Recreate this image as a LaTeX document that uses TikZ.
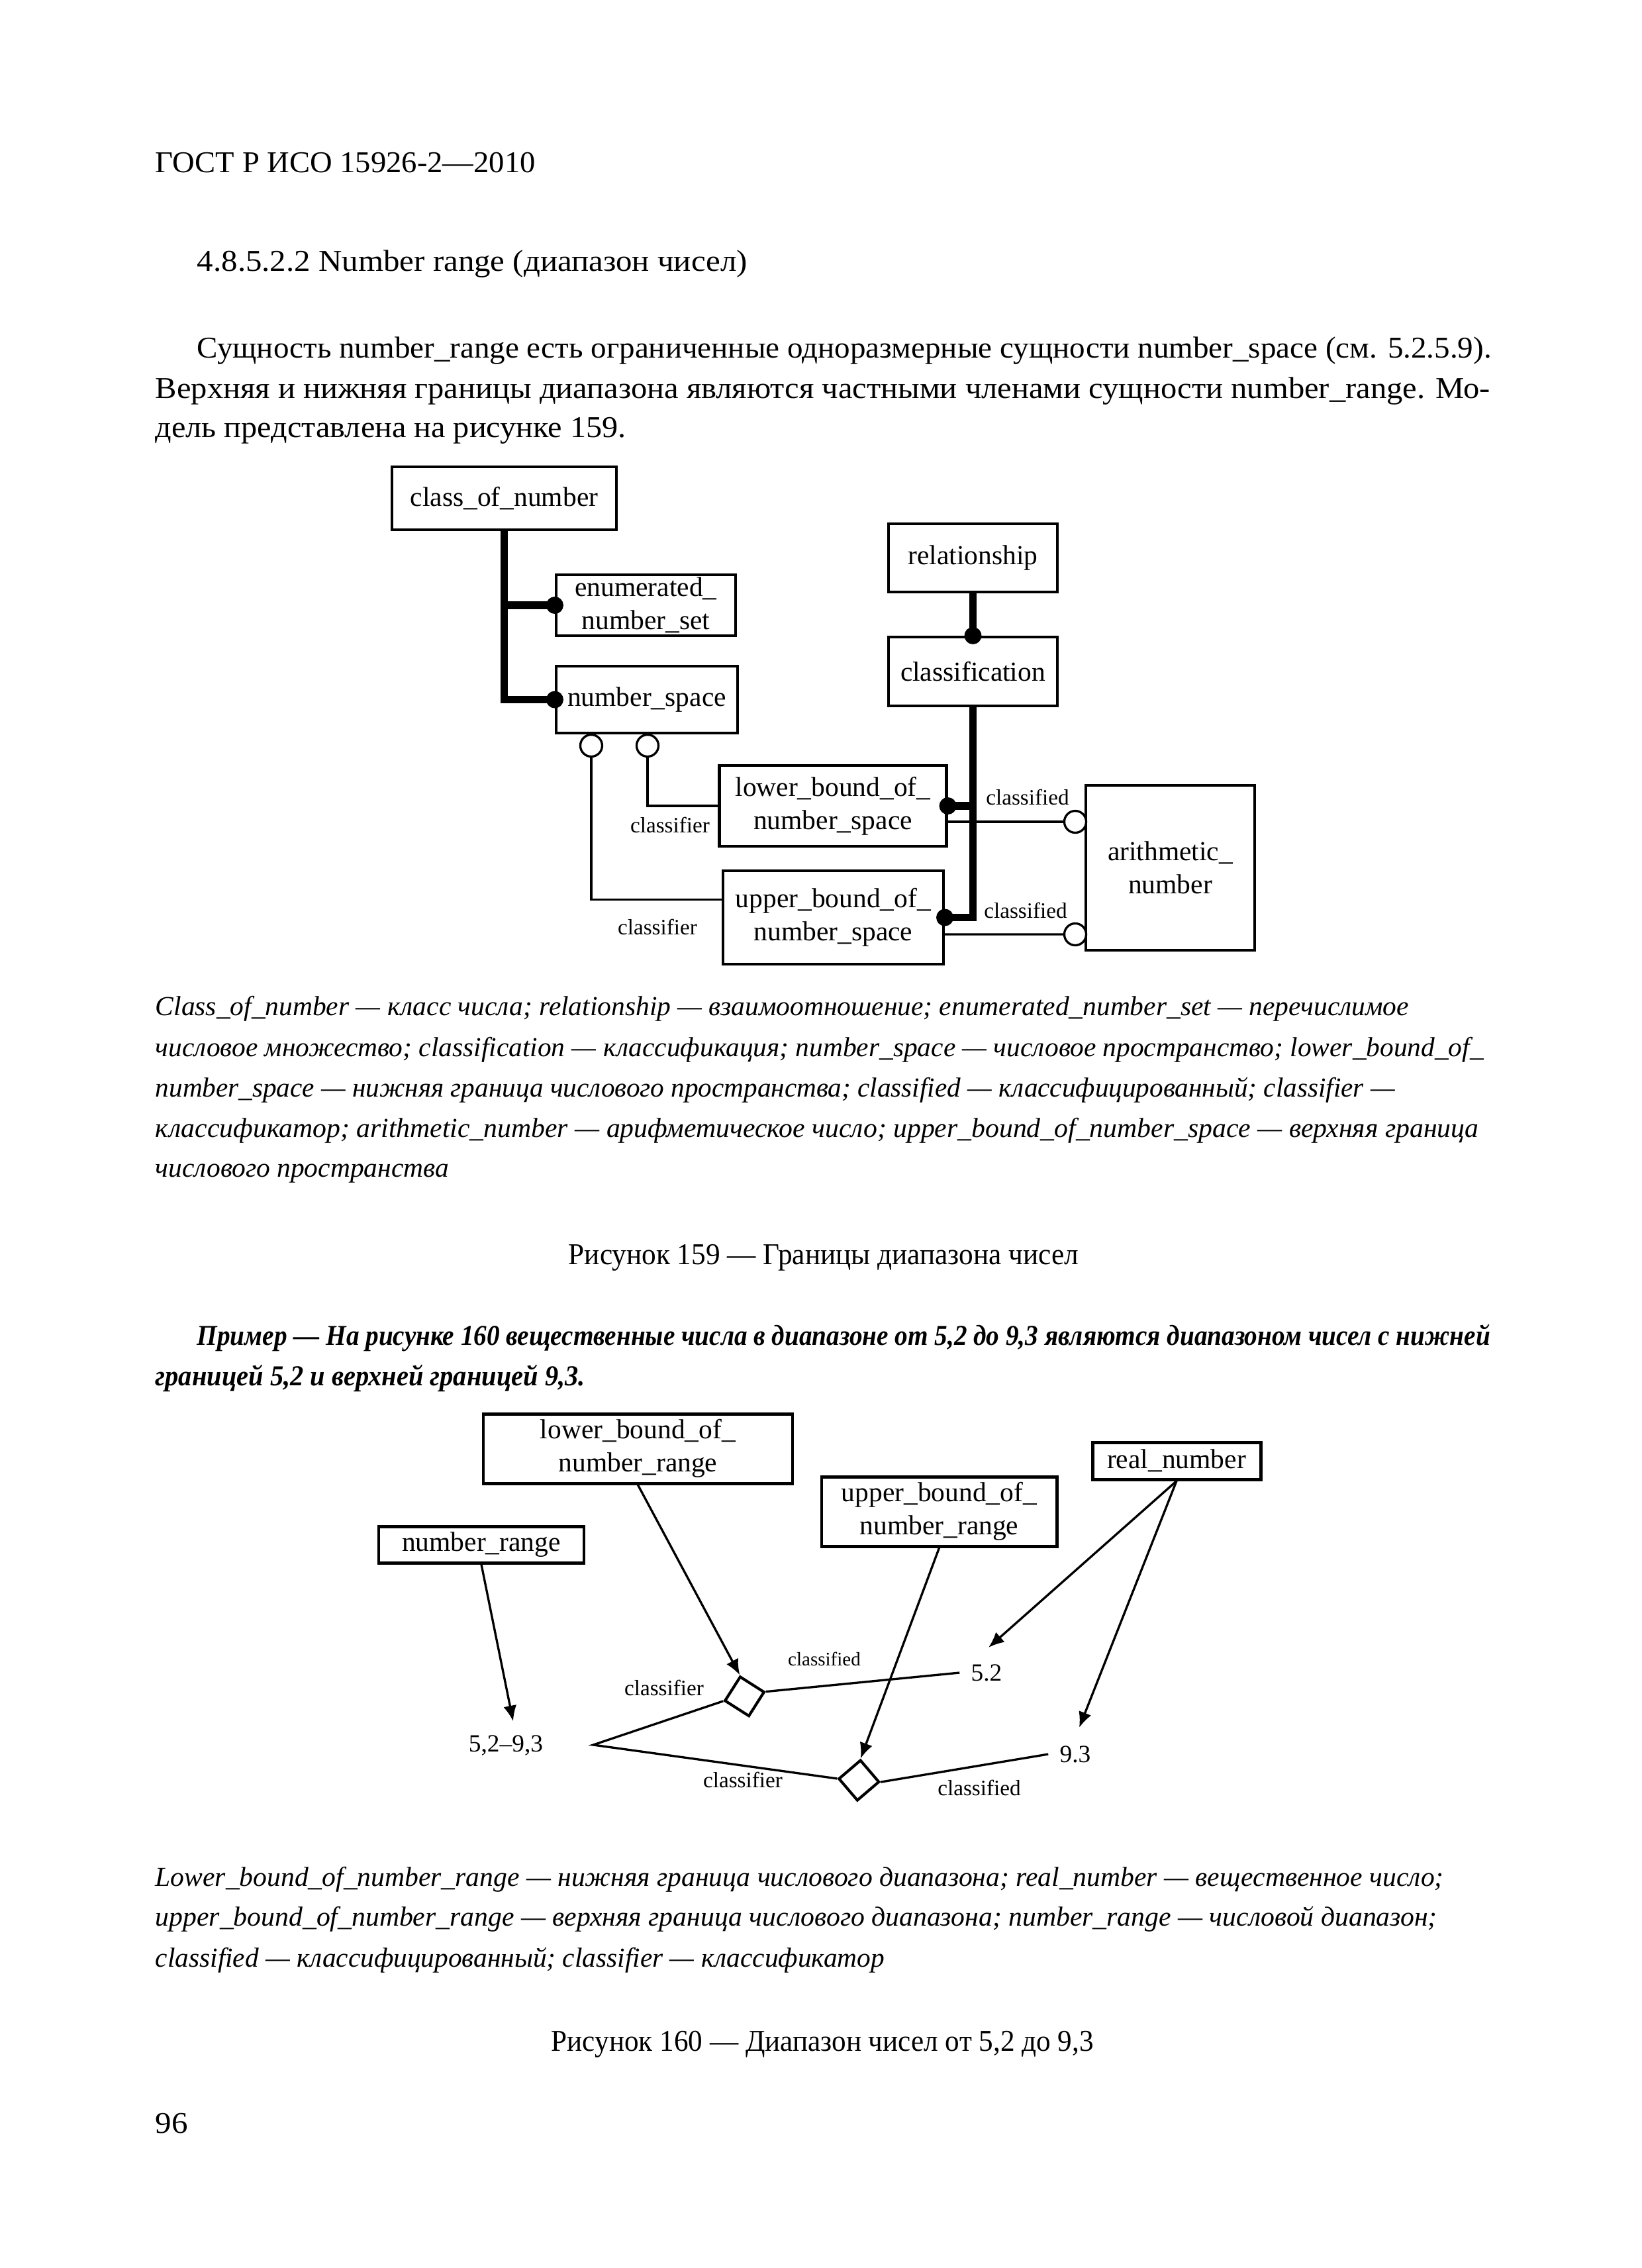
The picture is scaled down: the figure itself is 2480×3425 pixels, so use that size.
\documentclass[tikz,border=0pt]{standalone}
\usepackage{fontspec}
\setmainfont{Liberation Serif}
\usepackage{graphicx}
\usetikzlibrary{arrows.meta,shapes.geometric,calc}
\newlength\pxl
\setlength\pxl{0.0084667cm}
\newcommand{\fitline}[2]{\resizebox{#1\pxl}{\height}{#2}}
\newcommand{\bodyf}{\fontsize{11}{13}\selectfont}
\newcommand{\legf}{\fontsize{10}{12}\selectfont\itshape}
\newcommand{\exf}{\fontsize{10.5}{12}\selectfont\bfseries\itshape}
\begin{document}
\begin{tikzpicture}[x=0.0084667cm,y=-0.0084667cm,
  ebox/.style={draw, line width=1pt, inner sep=0pt, align=center, font=\fontsize{10}{12}\selectfont},
  fbox/.style={ebox, line width=1.2pt},
  thk/.style={line width=2.8pt},
  thn/.style={line width=0.8pt},
  ocirc/.style={circle, draw, fill=white, line width=0.8pt, minimum size=33\pxl, inner sep=0pt},
  lbl/.style={font=\fontsize{8}{9}\selectfont, inner sep=0pt},
  val/.style={font=\fontsize{9}{10}\selectfont, inner sep=4pt},
  dmd/.style={diamond, draw, fill=white, line width=1pt, minimum width=62\pxl, minimum height=62\pxl, inner sep=0pt},
  arr/.style={thn, -{Latex[length=2mm,width=1.7mm]}},
  txt/.style={anchor=base west, inner sep=0pt}
]
\useasboundingbox[fill=white] (0,0) rectangle (2480,3425);

% ---------- page text ----------
\node[txt] (hdr) at (234,260) {\bodyf\fitline{574}{ГОСТ Р ИСО 15926-2—2010}};
\node[txt] (sec) at (297,409) {\bodyf\fitline{831}{4.8.5.2.2 Number range (диапазон чисел)}};
\node[txt] (p1) at (297,540) {\bodyf\fitline{1955}{Сущность number\_range есть ограниченные одноразмерные сущности number\_space (см. 5.2.5.9).}};
\node[txt] (p2) at (234,601) {\bodyf\fitline{2016}{Верхняя и нижняя границы диапазона являются частными членами сущности number\_range. Мо-}};
\node[txt] (p3) at (234,660) {\bodyf\fitline{711}{дель представлена на рисунке 159.}};

% ---------- figure 159 ----------
\node[ebox, minimum width=339\pxl, minimum height=95\pxl] (con) at (761.5,752.5) {class\_of\_number};
\node[ebox, minimum width=271\pxl, minimum height=92\pxl] (ens) at (975.5,914) {enumerated\_\\number\_set};
\node[ebox, minimum width=274\pxl, minimum height=101\pxl] (ns) at (977,1056.5) {number\_space};
\node[ebox, minimum width=255\pxl, minimum height=103\pxl] (rel) at (1469.5,842.5) {relationship};
\node[ebox, minimum width=255\pxl, minimum height=104\pxl] (cls) at (1469.5,1014) {classification};
\node[ebox, minimum width=343\pxl, minimum height=122\pxl] (lb) at (1258,1217) {lower\_bound\_of\_\\number\_space};
\node[ebox, minimum width=333\pxl, minimum height=141\pxl] (ub) at (1258.5,1385.5) {upper\_bound\_of\_\\number\_space};
\node[ebox, minimum width=255\pxl, minimum height=249\pxl] (an) at (1767.5,1310.5) {arithmetic\_\\number};

\draw[thk] (con.south) |- (ns.west);
\draw[thk] (con.south |- ens.west) -- (ens.west);
\fill (ens.west) circle[radius=13\pxl];
\fill (ns.west) circle[radius=13\pxl];

\draw[thk] (rel.south) -- (cls.north);
\fill (cls.north) circle[radius=13\pxl];
\draw[thk] (cls.south) |- (ub.east);
\draw[thk] (cls.south |- lb.east) -- (lb.east);
\fill (lb.east) circle[radius=13\pxl];
\fill (ub.east) circle[radius=13\pxl];

\node[ocirc] (oc1) at (893,1126) {};
\node[ocirc] (oc2) at (978,1126) {};
\node[ocirc] (oc3) at (1624,1241) {};
\node[ocirc] (oc4) at (1624,1411) {};
\draw[thn] (oc2.south) |- (lb.west);
\draw[thn] (oc1.south) |- ($(ub.west)+(0,-27)$);
\draw[thn] ($(lb.east)+(0,24)$) -- (oc3.west);
\draw[thn] ($(ub.east)+(0,25.5)$) -- (oc4.west);

\node[lbl] (l1) at (1012,1246) {classifier};
\node[lbl] (l2) at (993,1400) {classifier};
\node[lbl] (l3) at (1552,1204) {classified};
\node[lbl] (l4) at (1549,1375) {classified};

% legend 159
\node[txt] (g1) at (234,1533) {\legf\fitline{1893}{Class\_of\_number — класс числа; relationship — взаимоотношение; enumerated\_number\_set — перечислимое}};
\node[txt] (g2) at (234,1595) {\legf\fitline{2006}{числовое множество; classification — классификация; number\_space — числовое пространство; lower\_bound\_of\_}};
\node[txt] (g3) at (234,1656) {\legf\fitline{1872}{number\_space — нижняя граница числового пространства; classified — классифицированный; classifier —}};
\node[txt] (g4) at (234,1717) {\legf\fitline{1999}{классификатор; arithmetic\_number — арифметическое число; upper\_bound\_of\_number\_space — верхняя граница}};
\node[txt] (g5) at (234,1777) {\legf\fitline{443}{числового пространства}};
\node[txt] (cap1) at (858,1909) {\bodyf\fitline{770}{Рисунок 159 — Границы диапазона чисел}};

% example
\node[txt] (e1) at (297,2031) {\exf\fitline{1953}{Пример — На рисунке 160 вещественные числа в диапазоне от 5,2 до 9,3 являются диапазоном чисел с нижней}};
\node[txt] (e2) at (234,2092) {\exf\fitline{649}{границей 5,2 и верхней границей 9,3.}};

% ---------- figure 160 ----------
\node[fbox, minimum width=467\pxl, minimum height=105\pxl] (lbr) at (963.5,2187.5) {lower\_bound\_of\_\\number\_range};
\node[fbox, minimum width=310\pxl, minimum height=55\pxl] (nr) at (727,2332.5) {number\_range};
\node[fbox, minimum width=355\pxl, minimum height=105\pxl] (ubr) at (1418.5,2282.5) {upper\_bound\_of\_\\number\_range};
\node[fbox, minimum width=254\pxl, minimum height=56\pxl] (rn) at (1777,2206) {real\_number};

\node[val] (r5293) at (764,2636) {5,2–9,3};
\node[val] (v52) at (1490,2526) {5.2};
\node[val] (v93) at (1624,2649) {9.3};

\node[dmd, rotate=12.5] (d1) at (1124.5,2561.75) {};
\node[dmd, rotate=-4.5] (d2) at (1297.25,2688.5) {};
\coordinate (vx) at (896,2635);

\draw[arr] (nr.south) -- ($(r5293.north)+(11,-4)$);
\draw[arr] (lbr.south) -- (d1.north);
\draw[arr] (ubr.south) -- (d2.north);
\draw[arr] (rn.south) -- ($(v52.north)+(3,-8)$);
\draw[arr] (rn.south) -- ($(v93.north)+(6,-10)$);
\draw[thn] (d1.east) -- (v52.west);
\draw[thn] (d1.west) -- (vx) -- (d2.west);
\draw[thn] (d2.east) -- (v93.west);

\node[lbl, font=\fontsize{7}{8}\selectfont] (m1) at (1245,2505) {classified};
\node[lbl] (m2) at (1003,2549) {classifier};
\node[lbl] (m3) at (1122,2688) {classifier};
\node[lbl] (m4) at (1479,2700) {classified};

% legend 160
\node[txt] (h1) at (234,2848) {\legf\fitline{1946}{Lower\_bound\_of\_number\_range — нижняя граница числового диапазона; real\_number — вещественное число;}};
\node[txt] (h2) at (234,2908) {\legf\fitline{1936}{upper\_bound\_of\_number\_range — верхняя граница числового диапазона; number\_range — числовой диапазон;}};
\node[txt] (h3) at (234,2970) {\legf\fitline{1101}{classified — классифицированный; classifier — классификатор}};
\node[txt] (cap2) at (832,3097) {\bodyf\fitline{819}{Рисунок 160 — Диапазон чисел от 5,2 до 9,3}};
\node[txt] (pg) at (234,3221) {\bodyf\fitline{49}{96}};
\end{tikzpicture}
\end{document}
